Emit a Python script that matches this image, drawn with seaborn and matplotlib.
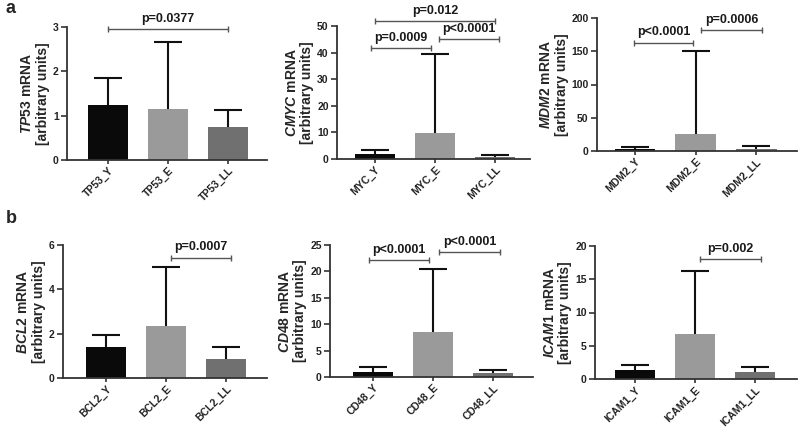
import matplotlib
matplotlib.use('Agg')
import matplotlib.pyplot as plt
import seaborn as sns
import pandas as pd
import numpy as np

sns.set_style('ticks')
plt.rcParams['font.family'] = ['Liberation Sans', 'DejaVu Sans']
plt.rcParams['font.weight'] = 'bold'
plt.rcParams['mathtext.fontset'] = 'custom'
plt.rcParams['mathtext.it'] = 'Liberation Sans:italic:bold'
plt.rcParams['mathtext.rm'] = 'Liberation Sans:bold'
plt.rcParams['mathtext.bf'] = 'Liberation Sans:bold'

# dados (média e desvio superior)
tp53_groups = ['TP53_Y', 'TP53_E', 'TP53_LL']
tp53_mean = [1.25, 1.15, 0.75]
tp53_sd = [0.59, 1.52, 0.37]

myc_groups = ['MYC_Y', 'MYC_E', 'MYC_LL']
myc_mean = [1.8, 9.8, 0.6]
myc_sd = [1.5, 29.5, 0.8]

mdm2_groups = ['MDM2_Y', 'MDM2_E', 'MDM2_LL']
mdm2_mean = [2.5, 26.0, 3.5]
mdm2_sd = [3.5, 125.0, 4.5]

bcl2_groups = ['BCL2_Y', 'BCL2_E', 'BCL2_LL']
bcl2_mean = [1.4, 2.35, 0.85]
bcl2_sd = [0.55, 2.67, 0.53]

cd48_groups = ['CD48_Y', 'CD48_E', 'CD48_LL']
cd48_mean = [1.0, 8.5, 0.8]
cd48_sd = [0.8, 12.0, 0.5]

icam1_groups = ['ICAM1_Y', 'ICAM1_E', 'ICAM1_LL']
icam1_mean = [1.3, 6.7, 1.05]
icam1_sd = [0.75, 9.6, 0.8]

cores = ['#0a0a0a', '#9a9a9a', '#707070']

# (grupos, médias, dp, gene, ylim, yticks, retângulo em px [esq, dir, topo, base], xlim, comparações)
paineis = [
    (tp53_groups, tp53_mean, tp53_sd, 'TP53', 3, [0, 1, 2, 3], [67, 267, 27, 160], (-0.68, 2.65),
     [(0, 2, 2.95, 'p=0.0377')]),
    (myc_groups, myc_mean, myc_sd, 'CMYC', 50, [0, 10, 20, 30, 40, 50], [337, 530, 26, 159], (-0.63, 2.58),
     [(0, 2, 52, 'p=0.012'), (-0.07, 0.93, 41.8, 'p=0.0009'), (1.07, 2.07, 45, 'p<0.0001')]),
    (mdm2_groups, mdm2_mean, mdm2_sd, 'MDM2', 200, [0, 50, 100, 150, 200], [597, 797, 18, 151], (-0.63, 2.67),
     [(-0.02, 0.95, 163, 'p<0.0001'), (1.08, 2.1, 182, 'p=0.0006')]),
    (bcl2_groups, bcl2_mean, bcl2_sd, 'BCL2', 6, [0, 2, 4, 6], [63, 267, 245, 378], (-0.72, 2.68),
     [(1.08, 2.08, 5.43, 'p=0.0007')]),
    (cd48_groups, cd48_mean, cd48_sd, 'CD48', 25, [0, 5, 10, 15, 20, 25], [330, 533, 245, 377], (-0.72, 2.67),
     [(-0.07, 0.93, 22.2, 'p<0.0001'), (1.1, 2.12, 23.7, 'p<0.0001')]),
    (icam1_groups, icam1_mean, icam1_sd, 'ICAM1', 20, [0, 5, 10, 15, 20], [595, 797, 246, 379], (-0.67, 2.7),
     [(1.08, 2.1, 18.0, 'p=0.002')]),
]

W, H = 800, 428
fig = plt.figure(figsize=(8, 4.28), dpi=100)

for grupos, media, dp, gene, ymax, yt, (l, r, t, b), xl, comps in paineis:
    ax = fig.add_axes([l / W, 1 - b / H, (r - l) / W, (b - t) / H])
    df = pd.DataFrame({'grupo': grupos, 'media': media})
    sns.barplot(data=df, x='grupo', y='media', hue='grupo', palette=cores, errorbar=None,
                width=0.67, saturation=1, legend=False, ax=ax, linewidth=0)
    eb = ax.errorbar(np.arange(3), media, yerr=[np.zeros(3), dp], fmt='none', ecolor='#111111',
                     elinewidth=1.5, capsize=10, capthick=1.5, zorder=3)
    eb[1][0].set_visible(False)  # sem a barra inferior
    ax.set_ylim(0, ymax)
    ax.set_xlim(*xl)
    ax.set_yticks(yt)
    ax.set_xlabel('')
    ax.set_ylabel('$\\mathit{' + gene + '}$ mRNA\n[arbitrary units]', fontsize=10,
                  fontweight='bold', labelpad=2, linespacing=1.15)
    ax.tick_params(axis='y', labelsize=7.5, length=4, width=1.1, colors='#222222', pad=2)
    ax.tick_params(axis='x', labelsize=7.5, length=3, width=1.1, colors='#222222', pad=1)
    plt.setp(ax.get_yticklabels(), fontweight='bold')
    plt.setp(ax.get_xticklabels(), rotation=45, ha='right', rotation_mode='anchor', fontweight='bold')
    for s in ['left', 'bottom']:
        ax.spines[s].set_linewidth(1.3)
        ax.spines[s].set_color('#333333')
    sns.despine(ax=ax)
    for x1, x2, y, txt in comps:
        ax.plot([x1, x2], [y, y], color='#555555', lw=1.0, clip_on=False)
        ax.plot([x1, x2], [y, y], ls='none', marker='|', ms=5, mew=1.0, color='#555555', clip_on=False)
        ax.annotate(txt, xy=((x1 + x2) / 2, y), xytext=(0, 3), textcoords='offset points',
                    ha='center', va='bottom', fontsize=9, fontweight='bold', color='#1a1a1a',
                    annotation_clip=False)

fig.text(6 / W, 1 - 13 / H, 'a', fontsize=13, fontweight='bold')
fig.text(6 / W, 1 - 223 / H, 'b', fontsize=13, fontweight='bold')

fig.savefig('out.png', dpi=100, facecolor='white')
